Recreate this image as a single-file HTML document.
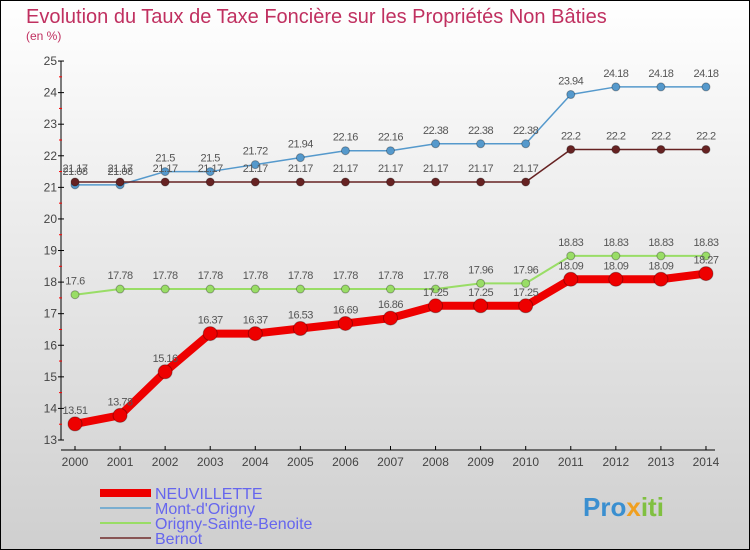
<!DOCTYPE html>
<html><head><meta charset="utf-8"><style>
body{margin:0;width:750px;height:550px;overflow:hidden;font-family:"Liberation Sans",sans-serif}
svg{display:block}
</style></head><body>
<svg id="c" width="750" height="550" xmlns="http://www.w3.org/2000/svg">
<defs><linearGradient id="bg" x1="0" y1="0" x2="0" y2="1"><stop offset="0" stop-color="#ffffff"/><stop offset="1" stop-color="#cfcfcf"/></linearGradient></defs>
<rect x="0.5" y="0.5" width="749" height="549" fill="url(#bg)" stroke="#000"/>
<text x="26" y="23" font-size="20" fill="#c03060">Evolution du Taux de Taxe Foncière sur les Propriétés Non Bâties</text>
<text x="26" y="40" font-size="12" fill="#c03060">(en %)</text>
<g id="axes"></g><g id="series"></g><g id="legend"></g>
<text x="583" y="516" font-size="26" font-weight="bold" fill="#3a8fd0">Pro<tspan fill="#f0a020">x</tspan><tspan fill="#80c040">iti</tspan></text>
</svg>
<script>
const years=[2000,2001,2002,2003,2004,2005,2006,2007,2008,2009,2010,2011,2012,2013,2014];
const yTicks=[13,14,15,16,17,18,19,20,21,22,23,24,25];
const neuv=[13.51,13.78,15.16,16.37,16.37,16.53,16.69,16.86,17.25,17.25,17.25,18.09,18.09,18.09,18.27];
const mont=[21.08,21.08,21.5,21.5,21.72,21.94,22.16,22.16,22.38,22.38,22.38,23.94,24.18,24.18,24.18];
const orig=[17.6,17.78,17.78,17.78,17.78,17.78,17.78,17.78,17.78,17.96,17.96,18.83,18.83,18.83,18.83];
const bern=[21.17,21.17,21.17,21.17,21.17,21.17,21.17,21.17,21.17,21.17,21.17,22.2,22.2,22.2,22.2];
const NS="http://www.w3.org/2000/svg";
const X=i=>75+i*45.07, Y=v=>440-(v-13)*31.58;
function mk(p,t,a){const e=document.createElementNS(NS,t);for(const k in a)e.setAttribute(k,a[k]);p.appendChild(e);return e;}
const ax=document.getElementById('axes');
let e=mk(ax,'line',{x1:61,y1:61,x2:61,y2:440,stroke:'#000'});


e=mk(ax,'line',{x1:61,y1:450,x2:715,y2:450,stroke:'#000'});


yTicks.forEach(v=>{const y=Y(v);
 mk(ax,'line',{x1:58,y1:y,x2:64,y2:y,stroke:'#000'});
 if(v<25)mk(ax,'line',{x1:59,y1:Y(v+0.5),x2:62,y2:Y(v+0.5),stroke:'#f00'});
 const t=mk(ax,'text',{x:57,y:y+4,'font-size':12,'text-anchor':'end',fill:'#444'});t.textContent=v;
 
 });
years.forEach((yr,i)=>{const x=X(i);
 mk(ax,'line',{x1:x,y1:446,x2:x,y2:450,stroke:'#000'});
 const t=mk(ax,'text',{x:x,y:466,'font-size':12,'text-anchor':'middle',fill:'#444'});t.textContent=yr;
 
 });
const sg=document.getElementById('series');
function series(d,col,w,r,name){const g=mk(sg,'g',{});
 
 
 mk(g,'polyline',{points:d.map((v,i)=>X(i)+','+Y(v)).join(' '),fill:'none',stroke:col,'stroke-width':w,'stroke-linejoin':'round'});
 d.forEach((v,i)=>{const c=mk(g,'circle',{cx:X(i),cy:Y(v),r:r,fill:col,stroke:'rgba(0,0,0,0.3)'});
  
  
  const t=mk(g,'text',{x:X(i),y:Y(v)-10,'font-size':11,'text-anchor':'middle',fill:'#555','letter-spacing':'-0.5'});t.textContent=v;});}
series(orig,'#99dd66',2,4,'series-origny');
series(mont,'#5599cc',1.5,4,'series-mont-dorigny');
series(bern,'#662222',1.5,4,'series-bernot');
series(neuv,'#ee0000',8,7,'series-neuvillette');
const lg=document.getElementById('legend');
[['NEUVILLETTE','#ee0000',8],['Mont-d\'Origny','#7aaed0',2],['Origny-Sainte-Benoite','#99dd66',2],['Bernot','#885555',2]].forEach((s,i)=>{
 const y=493+i*15;const g=mk(lg,'g',{});
 
 
 mk(g,'line',{x1:100,y1:y,x2:151,y2:y,stroke:s[1],'stroke-width':s[2]});
 const t=mk(g,'text',{x:155,y:y+6,'font-size':16,fill:'#6666ee'});t.textContent=s[0];});
</script>
</body></html>
